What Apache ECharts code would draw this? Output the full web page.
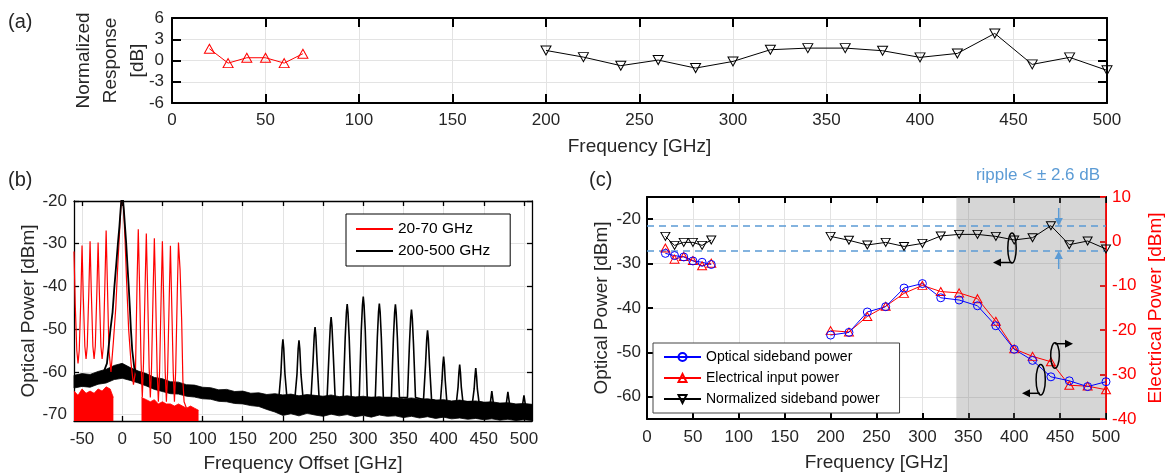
<!DOCTYPE html>
<html>
<head>
<meta charset="utf-8">
<script src="https://cdn.jsdelivr.net/npm/echarts@6/dist/echarts.min.js"></script>
<style>
  html, body { margin: 0; padding: 0; background: #fff; }
  #chart { width: 1169px; height: 476px; }
</style>
</head>
<body>
<div id="chart"></div>
<script>
  // sideband frequencies [GHz]
  const freqLow = [20, 30, 40, 50, 60, 70];
  const freqHigh = [200, 220, 240, 260, 280, 300, 320, 340, 360, 380, 400, 420, 440, 460, 480, 500];

  // (a) normalized response [dB]
  const respLow = [1.66, -0.37, 0.39, 0.39, -0.37, 0.96];
  const respHigh = [1.42, 0.48, -0.73, 0.06, -1.07, -0.13, 1.52, 1.75, 1.75, 1.38, 0.44, 1.0, 3.82, -0.55, 0.44, -1.39];

  // (c) optical sideband power [dBm], electrical input power [dBm], normalized sideband power [dB]
  const optLow = [-27.7, -28.2, -28.5, -29.4, -29.7, -30.2];
  const optHigh = [-46.1, -45.5, -40.9, -39.7, -35.5, -34.5, -37.7, -38.2, -39.5, -44.0, -49.3, -51.8, -55.5, -56.4, -57.7, -56.6];
  const elecLow = [-1.5, -4.0, -3.4, -4.3, -5.5, -4.9];
  const elecHigh = [-20.1, -20.4, -16.9, -14.6, -11.7, -9.9, -11.3, -11.6, -12.9, -18.0, -24.2, -25.9, -27.1, -32.4, -32.6, -33.4];
  const normLow = [1.13, -0.9, -0.22, -0.22, -0.9, 0.32];
  const normHigh = [1.13, 0.25, -0.81, -0.22, -1.13, -0.45, 1.22, 1.58, 1.58, 1.13, 0.32, 0.83, 3.54, -0.74, 0.09, -1.71];
  const rippleLevels = [3.54, -2.03];
  const shadeFrom = 337;

  // tick labels
  const offsetTicks = [-50, 0, 50, 100, 150, 200, 250, 300, 350, 400, 450, 500];
  const specPowerTicks = [-70, -60, -50, -40, -30, -20];
  const optPowerTicks = [-60, -50, -40, -30, -20];

  // (b) spectra, [offset GHz, dBm]
  const redTrace = [
    [-60, -31.8], [-58.5, -44], [-56.5, -55], [-55, -58], [-53.5, -55], [-51.5, -43],
    [-50, -30.4], [-48.5, -42], [-46.5, -54], [-45, -57], [-43.5, -54], [-41.5, -41],
    [-40, -29.4], [-38.5, -41], [-36.5, -54], [-35, -57], [-33.5, -54], [-31.5, -41],
    [-30, -29.7], [-28.5, -41], [-26.5, -54], [-25, -57], [-23.5, -54], [-21.5, -39],
    [-20, -26.9], [-18.5, -39], [-16.5, -55], [-14, -60],
    [-11, -53], [-8, -45], [-5.5, -35], [-3.5, -28], [-1.5, -21], [0, -17], [1.5, -21],
    [3.5, -29], [5.5, -39], [8, -50], [11, -58], [14, -63], [16.5, -60],
    [18.5, -39], [20, -26.6], [21.5, -39], [23.5, -58], [25, -66], [26.5, -58], [28.5, -40],
    [30, -27.6], [31.5, -40], [33.5, -59], [35, -66], [36.5, -59], [38.5, -41],
    [40, -28.7], [41.5, -41], [43.5, -60], [45, -67], [46.5, -60], [48.5, -42],
    [50, -29.4], [51.5, -42], [53.5, -60], [55, -67], [56.5, -60], [58.5, -43],
    [60, -30.5], [61.5, -43], [63.5, -60], [65, -67], [66.5, -60], [68.5, -42],
    [70, -29.7], [72, -36], [74, -48], [75.5, -62], [77, -67], [80, -68.5]
  ];
  const redNoiseNeg = [[-60, -64.5], [-55, -65.5], [-50, -64], [-45, -65], [-40, -64.5], [-35, -65],
    [-30, -64], [-25, -64.5], [-20, -63.5], [-15, -64], [-11, -66]];
  const redNoisePos = [[24, -66], [30, -66.5], [35, -67], [40, -66.5], [45, -67.5], [50, -67], [55, -67.5],
    [60, -67.5], [65, -68], [70, -67.5], [75, -68], [80, -68.5], [85, -68], [90, -68.5], [95, -69]];

  const blackCarrier = [[-24, -60.5], [-19, -58], [-14.6, -50], [-12, -46], [-9.7, -40], [-7.5, -35],
    [-5.4, -30], [-3.5, -26], [-2, -22], [-1, -19.8], [0, -18.5], [1, -19.8], [2, -22], [3.5, -26],
    [5, -30], [6.5, -35], [8.1, -40], [9.5, -45], [10.8, -50], [12.5, -55], [15, -59], [18, -60.5]];
  const blackPeaks = [
    [195, -66], [197.5, -60.4], [199, -54.4], [200, -52.4], [201, -54.4], [202.5, -60.4], [205, -66],
    [215, -66], [217.5, -60.6], [219, -54.6], [220, -52.6], [221, -54.6], [222.5, -60.6], [225, -66],
    [235, -66], [237.5, -57.5], [239, -51.5], [240, -49.5], [241, -51.5], [242.5, -57.5], [245, -66],
    [255, -66], [257.5, -55.2], [259, -49.2], [260, -47.2], [261, -49.2], [262.5, -55.2], [265, -66],
    [275, -66], [277.5, -52.1], [279, -46.1], [280, -44.1], [281, -46.1], [282.5, -52.1], [285, -66],
    [295, -66], [297.5, -50.4], [299, -44.4], [300, -42.4], [301, -44.4], [302.5, -50.4], [305, -66],
    [315, -66], [317.5, -52.0], [319, -46.0], [320, -44.0], [321, -46.0], [322.5, -52.0], [325, -66],
    [335, -66], [337.5, -52.2], [339, -46.2], [340, -44.2], [341, -46.2], [342.5, -52.2], [345, -66],
    [355, -66], [357.5, -53.4], [359, -47.4], [360, -45.4], [361, -47.4], [362.5, -53.4], [365, -66],
    [375, -66.5], [377.5, -58.3], [379, -52.3], [380, -50.3], [381, -52.3], [382.5, -58.3], [385, -66.5],
    [396, -67], [398, -62], [399, -58.4], [400, -56.4], [401, -58.4], [402, -62], [404, -67],
    [416, -67], [418, -63.5], [419, -60.3], [420, -58.3], [421, -60.3], [422, -63.5], [424, -67],
    [436, -67], [438, -64], [439, -61.1], [440, -59.1], [441, -61.1], [442, -64], [444, -67],
    [458, -67.5], [460, -64.5], [462, -67.5],
    [478, -67.5], [480, -64.7], [482, -67.5],
    [498, -68], [500, -65.5], [502, -68]
  ];
  const blackFloorX = [-60, -50, -40, -30, -20, -10, 0, 10, 20, 30,
    40, 50, 60, 70, 80, 90, 100, 110, 120, 130,
    140, 150, 160, 170, 180, 190, 200, 210, 220, 230,
    240, 250, 260, 270, 280, 290, 300, 310, 320, 330,
    340, 350, 360, 370, 380, 390, 400, 410, 420, 430,
    440, 450, 460, 470, 480, 490, 500, 510];
  const blackFloorTop = [-60.8, -60.4, -60.6, -59.9, -59.4, -58.5, -58.0, -59.0, -59.8, -60.4,
    -61.3, -61.6, -62.3, -62.4, -63.0, -63.1, -63.6, -63.7, -64.2, -64.1,
    -64.6, -64.5, -65.0, -64.9, -65.3, -65.1, -65.4, -65.2, -65.6, -65.3,
    -65.5, -65.7, -65.4, -65.8, -65.6, -65.9, -65.7, -66.0, -65.8, -66.1,
    -66.0, -66.3, -66.1, -66.4, -66.3, -66.6, -66.5, -66.8, -66.6, -66.9,
    -66.8, -67.1, -67.0, -67.3, -67.2, -67.5, -67.4, -67.6];
  const blackFloorBottom = [-63.8, -63.4, -63.6, -62.9, -62.6, -61.8, -61.5, -62.0, -62.6, -63.3,
    -64.1, -64.6, -65.1, -65.2, -65.7, -65.9, -66.3, -66.4, -66.9, -67.0,
    -67.4, -67.5, -67.9, -68.1, -68.8, -69.4, -70.2, -69.8, -70.3, -69.7,
    -70.1, -70.4, -69.9, -70.3, -70.0, -70.5, -70.2, -70.6, -70.1, -70.4,
    -70.3, -70.7, -70.4, -70.8, -70.5, -70.9, -70.6, -71.0, -70.8, -71.1,
    -70.9, -71.2, -71.0, -71.3, -71.1, -71.4, -71.2, -71.4];

  const font = 'Liberation Sans';
  const ink = '#262626';
  const red = '#ff0000';
  const blue = '#0000ff';
  const ripple = '#5b9bd5';

  const chart = echarts.init(document.getElementById('chart'));

  function pairs (xs, ys) {
    return xs.map(function (x, i) { return [x, ys[i]]; });
  }

  // one value axis; frame axes only draw a line and inner ticks
  function axis (gridIndex, position, min, max, width, tickLen, extra) {
    return Object.assign({
      type: 'value',
      gridIndex: gridIndex,
      position: position,
      min: min,
      max: max,
      axisLine: {show: true, onZero: false, lineStyle: {color: '#000', width: width}},
      axisTick: {show: true, inside: true, length: tickLen, lineStyle: {color: '#000', width: width}},
      axisLabel: {show: false},
      splitLine: {show: false}
    }, extra || {});
  }

  const tickFont = {fontFamily: font, fontSize: 17, color: ink};
  const nameFont = {fontFamily: font, fontSize: 19, color: ink};
  const grid = {show: true, lineStyle: {color: '#e3e3e3', width: 1}};
  const hollow = function (c) { return {color: 'rgba(0,0,0,0)', borderColor: c, borderWidth: 1}; };

  function marked (name, xi, yi, xs, ys, color, symbol, rot, size) {
    return {
      type: 'line', name: name, xAxisIndex: xi, yAxisIndex: yi, data: pairs(xs, ys),
      symbol: symbol, symbolRotate: rot, symbolSize: size, showSymbol: true,
      lineStyle: {color: color, width: 1}, itemStyle: hollow(color), z: 5
    };
  }

  function spectrum (name, data, color, width, extra) {
    return Object.assign({
      type: 'line', name: name, xAxisIndex: 2, yAxisIndex: 2, data: data,
      symbol: 'none', lineStyle: {color: color, width: width}, itemStyle: {color: color}
    }, extra || {});
  }

  // black noise floor: band between the two traced envelopes
  const floorBand = {
    type: 'custom', name: 'blackFloor', xAxisIndex: 2, yAxisIndex: 2, data: [[0, -65]], silent: true,
    renderItem: function (params, api) {
      const upper = blackFloorX.map(function (x, i) { return api.coord([x, blackFloorTop[i]]); });
      const lower = blackFloorX.map(function (x, i) { return api.coord([x, blackFloorBottom[i]]); }).reverse();
      return {type: 'polygon', shape: {points: upper.concat(lower)}, style: {fill: '#000', stroke: '#000', lineWidth: 0.8}};
    }
  };

  const optSeries = marked('Optical sideband power', 4, 4, freqHigh, optHigh, blue, 'circle', 0, 8);
  optSeries.markArea = {
    silent: true,
    itemStyle: {color: 'rgba(120,120,120,0.3)'},
    data: [[{xAxis: shadeFrom}, {xAxis: 500}]]
  };
  const normSeries = marked('Normalized sideband power', 4, 5, freqHigh, normHigh, '#000', 'triangle', 180, [9, 8]);
  normSeries.markLine = {
    silent: true, symbol: 'none', label: {show: false},
    lineStyle: {color: ripple, type: [7, 5], width: 1.5},
    data: rippleLevels.map(function (v) { return {yAxis: v}; })
  };

  chart.setOption({
    animation: false,
    textStyle: {fontFamily: font},
    grid: [
      {left: 172, top: 18, width: 935, height: 85},
      {left: 74, top: 201, width: 458, height: 220},
      {left: 647, top: 197, width: 459, height: 222}
    ],
    xAxis: [
      axis(0, 'bottom', 0, 500, 2, 9, {
        interval: 50, axisLabel: Object.assign({margin: 9}, tickFont), splitLine: grid,
        name: 'Frequency [GHz]', nameLocation: 'middle', nameGap: 34, nameTextStyle: nameFont
      }),
      axis(0, 'top', 0, 500, 2, 9, {interval: 50}),
      axis(1, 'bottom', -60, 510, 1.3, 5, {
        axisTick: {show: true, inside: true, length: 5, customValues: offsetTicks, lineStyle: {color: '#000', width: 1.3}},
        axisLabel: Object.assign({margin: 10, customValues: offsetTicks}, tickFont), splitLine: grid,
        name: 'Frequency Offset [GHz]', nameLocation: 'middle', nameGap: 33, nameTextStyle: nameFont
      }),
      axis(1, 'top', -60, 510, 1.3, 5, {
        axisTick: {show: true, inside: true, length: 5, customValues: offsetTicks, lineStyle: {color: '#000', width: 1.3}}
      }),
      axis(2, 'bottom', 0, 500, 2, 6, {
        interval: 50, axisLabel: Object.assign({margin: 10}, tickFont), splitLine: grid,
        name: 'Frequency [GHz]', nameLocation: 'middle', nameGap: 34, nameTextStyle: nameFont
      }),
      axis(2, 'top', 0, 500, 2, 6, {interval: 50})
    ],
    yAxis: [
      axis(0, 'left', -6, 6, 2, 9, {
        interval: 3, axisLabel: Object.assign({margin: 8}, tickFont), splitLine: grid,
        name: 'Normalized\nResponse\n[dB]', nameLocation: 'middle', nameRotate: 90, nameGap: 21,
        nameMoveOverlap: false,
        nameTextStyle: Object.assign({lineHeight: 27}, nameFont)
      }),
      axis(0, 'right', -6, 6, 2, 9, {interval: 3}),
      axis(1, 'left', -71.5, -20, 1.3, 5, {
        axisTick: {show: true, inside: true, length: 5, customValues: specPowerTicks, lineStyle: {color: '#000', width: 1.3}},
        axisLabel: Object.assign({margin: 7, customValues: specPowerTicks}, tickFont), splitLine: grid,
        name: 'Optical Power [dBm]', nameLocation: 'middle', nameRotate: 90, nameGap: 34, nameTextStyle: nameFont
      }),
      axis(1, 'right', -71.5, -20, 1.3, 5, {
        axisTick: {show: true, inside: true, length: 5, customValues: specPowerTicks, lineStyle: {color: '#000', width: 1.3}}
      }),
      axis(2, 'left', -65, -15, 2, 6, {
        axisTick: {show: true, inside: true, length: 6, customValues: optPowerTicks, lineStyle: {color: '#000', width: 2}},
        axisLabel: Object.assign({margin: 6, customValues: optPowerTicks}, tickFont), splitLine: grid,
        name: 'Optical Power [dBm]', nameLocation: 'middle', nameRotate: 90, nameGap: 36, nameTextStyle: nameFont
      }),
      axis(2, 'right', -40, 10, 2, 6, {
        interval: 10,
        axisLine: {show: true, onZero: false, lineStyle: {color: red, width: 2}},
        axisTick: {show: true, inside: true, length: 6, lineStyle: {color: red, width: 2}},
        axisLabel: Object.assign({}, tickFont, {color: red, margin: 6}),
        name: 'Electrical Power [dBm]', nameLocation: 'middle', nameRotate: 90, nameGap: 40,
        nameTextStyle: Object.assign({}, nameFont, {color: red})
      })
    ],
    legend: [
      {
        data: ['20-70 GHz', '200-500 GHz'], orient: 'vertical', left: 346, top: 214,
        icon: 'rect', padding: [7, 20, 7, 10], itemWidth: 37, itemHeight: 2, itemGap: 6,
        backgroundColor: '#fff', borderColor: '#000', borderWidth: 1,
        textStyle: {fontFamily: font, fontSize: 15.5, color: '#000'}
      },
      {
        data: ['Optical sideband power', 'Electrical input power', 'Normalized sideband power'],
        orient: 'vertical', left: 653, top: 343,
        padding: [7, 20, 7, 10], itemWidth: 37, itemHeight: 10, itemGap: 7,
        backgroundColor: '#fff', borderColor: '#444', borderWidth: 1,
        textStyle: {fontFamily: font, fontSize: 14, color: '#000'}
      }
    ],
    series: [
      // (a)
      marked('respLow', 0, 0, freqLow, respLow, red, 'triangle', 0, [10, 9]),
      marked('respHigh', 0, 0, freqHigh, respHigh, '#000', 'triangle', 180, [10, 9]),
      // (b) red trace and its noise floor
      spectrum('redNoiseNeg', redNoiseNeg, red, 0.8, {areaStyle: {color: red, origin: 'start', opacity: 1}}),
      spectrum('redNoisePos', redNoisePos, red, 0.8, {areaStyle: {color: red, origin: 'start', opacity: 1}}),
      spectrum('20-70 GHz', redTrace, red, 1.2),
      // (b) black trace: noise band, carrier, sidebands
      floorBand,
      spectrum('200-500 GHz', blackCarrier, '#000', 1.8),
      spectrum('200-500 GHz', blackPeaks, '#000', 1.6),
      // (c)
      marked('Electrical input power', 4, 5, freqLow, elecLow, red, 'triangle', 0, [9, 8]),
      marked('Electrical input power', 4, 5, freqHigh, elecHigh, red, 'triangle', 0, [9, 8]),
      marked('Optical sideband power', 4, 4, freqLow, optLow, blue, 'circle', 0, 8),
      optSeries,
      marked('Normalized sideband power', 4, 5, freqLow, normLow, '#000', 'triangle', 180, [9, 8]),
      normSeries
    ],
    graphic: [
      {type: 'text', left: 8, top: 12, z: 100, style: {text: '(a)', font: '20px Liberation Sans', fill: ink}},
      {type: 'text', left: 8, top: 170, z: 100, style: {text: '(b)', font: '20px Liberation Sans', fill: ink}},
      {type: 'text', left: 589, top: 170, z: 100, style: {text: '(c)', font: '20px Liberation Sans', fill: ink}},
      {type: 'text', z: 100, style: {text: 'ripple < \u00b1 2.6 dB', x: 1038, y: 175, align: 'center', verticalAlign: 'middle', font: '17px Liberation Sans', fill: ripple}},
      // ripple arrows
      {type: 'line', z: 100, shape: {x1: 1058.7, y1: 208, x2: 1058.7, y2: 220}, style: {stroke: ripple, lineWidth: 1.5}},
      {type: 'polygon', z: 100, shape: {points: [[1054.5, 218], [1062.9, 218], [1058.7, 226]]}, style: {fill: ripple}},
      {type: 'line', z: 100, shape: {x1: 1058.7, y1: 269, x2: 1058.7, y2: 257}, style: {stroke: ripple, lineWidth: 1.5}},
      {type: 'polygon', z: 100, shape: {points: [[1054.5, 259], [1062.9, 259], [1058.7, 251]]}, style: {fill: ripple}},
      // axis annotations
      {type: 'ellipse', z: 100, shape: {cx: 1012, cy: 248, rx: 4.2, ry: 15}, style: {fill: 'none', stroke: '#000', lineWidth: 1.5}},
      {type: 'line', z: 100, shape: {x1: 1012, y1: 262.5, x2: 999, y2: 262.5}, style: {stroke: '#000', lineWidth: 1.5}},
      {type: 'polygon', z: 100, shape: {points: [[1001, 258.5], [1001, 266.5], [993, 262.5]]}, style: {fill: '#000'}},
      {type: 'ellipse', z: 100, shape: {cx: 1040.7, cy: 379.7, rx: 4.6, ry: 15.3}, style: {fill: 'none', stroke: '#000', lineWidth: 1.5}},
      {type: 'line', z: 100, shape: {x1: 1040, y1: 393.3, x2: 1028, y2: 393.3}, style: {stroke: '#000', lineWidth: 1.5}},
      {type: 'polygon', z: 100, shape: {points: [[1030, 389.3], [1030, 397.3], [1022, 393.3]]}, style: {fill: '#000'}},
      {type: 'ellipse', z: 100, shape: {cx: 1055, cy: 355.5, rx: 4.3, ry: 12.8}, style: {fill: 'none', stroke: '#000', lineWidth: 1.5}},
      {type: 'line', z: 100, shape: {x1: 1055, y1: 343.7, x2: 1067, y2: 343.7}, style: {stroke: '#000', lineWidth: 1.5}},
      {type: 'polygon', z: 100, shape: {points: [[1065, 339.7], [1065, 347.7], [1073, 343.7]]}, style: {fill: '#000'}}
    ]
  });
</script>
</body>
</html>
